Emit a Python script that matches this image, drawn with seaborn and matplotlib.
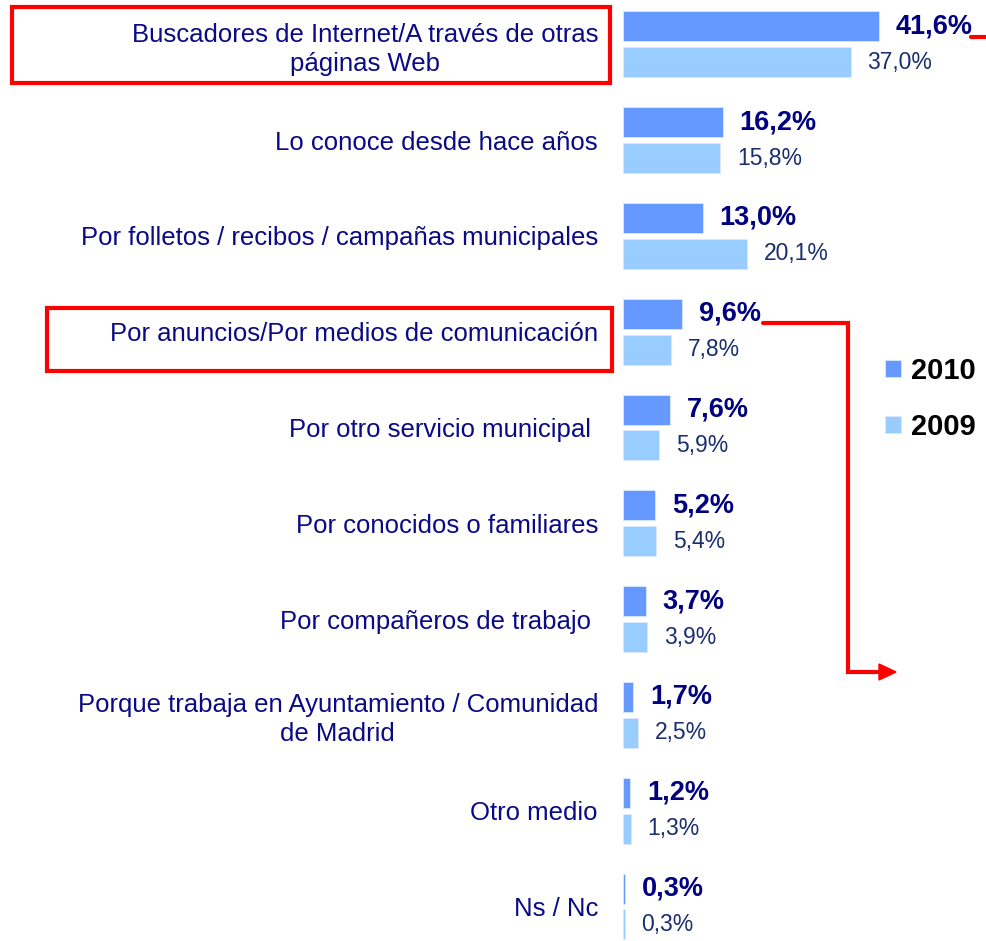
import seaborn as sns
import matplotlib.pyplot as plt
import pandas as pd
from matplotlib.lines import Line2D
from matplotlib.patches import Rectangle, Polygon

categories = [
    "Buscadores de Internet/A través de otras\npáginas Web",
    "Lo conoce desde hace años",
    "Por folletos / recibos / campañas municipales",
    "Por anuncios/Por medios de comunicación",
    "Por otro servicio municipal ",
    "Por conocidos o familiares",
    "Por compañeros de trabajo ",
    "Porque trabaja en Ayuntamiento / Comunidad\nde Madrid",
    "Otro medio",
    "Ns / Nc",
]
values_2010 = [41.6, 16.2, 13.0, 9.6, 7.6, 5.2, 3.7, 1.7, 1.2, 0.3]
values_2009 = [37.0, 15.8, 20.1, 7.8, 5.9, 5.4, 3.9, 2.5, 1.3, 0.3]
years = ["2010", "2009"]
colors = ["#6699FF", "#99CCFF"]

W, H = 987, 941


def px(x, y):
    # pixel position (from top-left) -> figure fraction
    return x / W, 1 - y / H


sns.set_style("white")
plt.rcParams['font.family'] = ['Liberation Sans', 'DejaVu Sans']

df = pd.DataFrame({
    "categoria": categories * 2,
    "valor": values_2010 + values_2009,
    "año": [years[0]] * len(categories) + [years[1]] * len(categories),
})

fig = plt.figure(figsize=(W / 100, H / 100), dpi=100)
ax = fig.add_axes([623 / W, 0, (W - 623) / W, 1])

sns.barplot(data=df, y="categoria", x="valor", hue="año", hue_order=years,
            palette=colors, saturation=1, orient="h", width=0.75, gap=0.165,
            edgecolor="#dbe8ff", linewidth=0.6, ax=ax)

ax.set_xlim(0, 364 / 6.16)
ax.set_ylim(9.360, -0.462)
ax.set_xlabel("")
ax.set_ylabel("")
ax.set_xticks([])
sns.despine(ax=ax, left=True, bottom=True)
ax.tick_params(axis="y", length=0, pad=18, labelsize=18.5, labelcolor="#0a0a84")
for t in ax.get_yticklabels():
    t.set_multialignment("center")
    t.set_linespacing(1.25)

fmt = lambda v: f"{v:.1f}%".replace(".", ",")
ax.bar_label(ax.containers[0], labels=[fmt(v) for v in values_2010], padding=12,
             fontsize=19.5, fontweight="bold", color="#000080")
ax.bar_label(ax.containers[1], labels=[fmt(v) for v in values_2009], padding=12,
             fontsize=16.5, color="#1a2f6e")

handles, labels = ax.get_legend_handles_labels()
ax.legend(handles, labels, loc="upper left", bbox_to_anchor=px(885, 357),
          bbox_transform=fig.transFigure, frameon=False, borderpad=0,
          borderaxespad=0, handlelength=0.55, handleheight=0.5,
          handletextpad=0.35, labelspacing=0.95, labelcolor="black",
          prop={"weight": "bold", "size": 21})

# red highlight boxes
red = "#ff0000"
for x0, y0, x1, y1 in [(12, 7, 610, 83), (47, 308, 612, 371)]:
    fx0, fy1 = px(x0, y1)
    fx1, fy0 = px(x1, y0)
    fig.add_artist(Rectangle((fx0, fy1), fx1 - fx0, fy0 - fy1, fill=False,
                             edgecolor=red, linewidth=3, transform=fig.transFigure))

# red arrow
pts = [px(763, 323), px(848, 323), px(848, 672), px(881, 672)]
fig.add_artist(Line2D([p[0] for p in pts], [p[1] for p in pts], color=red,
                      linewidth=3, solid_joinstyle="miter", transform=fig.transFigure))
fig.add_artist(Polygon([px(879, 664), px(896, 672), px(879, 680)], closed=True,
                       color=red, transform=fig.transFigure))
fig.add_artist(Line2D([px(971, 37)[0], 1], [px(971, 37)[1]] * 2, color=red,
                      linewidth=3, transform=fig.transFigure))

fig.savefig("out.png", dpi=100)
